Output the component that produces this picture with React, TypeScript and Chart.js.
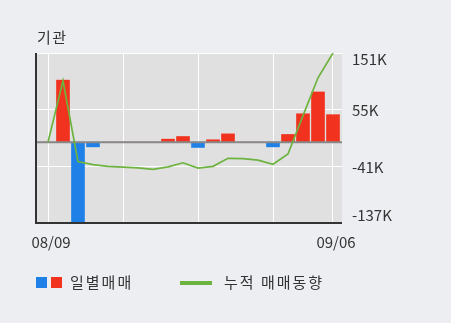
import React, { useEffect, useRef } from 'react';
import { Chart, registerables } from 'chart.js';

Chart.register(...registerables);

// ---- data ----
const dates = [
  '08/09', '08/12', '08/13', '08/14', '08/16', '08/19', '08/20', '08/21', '08/22', '08/23',
  '08/26', '08/27', '08/28', '08/29', '08/30', '09/02', '09/03', '09/04', '09/05', '09/06',
];
const dailyNet = [
  0, 105000, -136000, -8000, 0, 0, 0, 0, 5000, 9500,
  -9000, 4000, 14000, 0, 0, -8000, 13000, 48000, 85000, 46500,
];
const cumulativeNet = [
  0, 104000, -33000, -38000, -41000, -42500, -43500, -46000, -42000, -35000,
  -44000, -41000, -27500, -28000, -30500, -37500, -20000, 45000, 109000, 151000,
];
const yTickValues = [151000, 55000, -41000, -137000];
const yTickLabels = ['151K', '55K', '-41K', '-137K'];
const xGridIndices = [0, 5, 10, 15, 19];
const xLabelIndices = [0, 19];
const titleText = '기관';
const legendDaily = '일별매매';
const legendCum = '누적 매매동향';

// ---- styles ----
const RED = '#f0321e';
const BLUE = '#1f80e8';
const GREEN = '#6db33f';
const FONT = '"Noto Sans CJK KR", "Noto Sans", sans-serif';
const TEXT = '#333333';
const PAGE_BG = '#edeef2';

export default function App() {
  const ref = useRef<HTMLCanvasElement>(null);

  useEffect(() => {
    const canvas = ref.current;
    if (!canvas) return;

    const decor = {
      id: 'decor',
      beforeDraw(chart: any) {
        const { ctx, chartArea: a } = chart;
        ctx.save();
        ctx.fillStyle = '#e0e0e0';
        ctx.fillRect(a.left, a.top, a.right - a.left, a.bottom - a.top);
        ctx.restore();
      },
      beforeDatasetDraw(chart: any, args: any) {
        if (args.meta.type !== 'line') return;
        const { ctx, chartArea: a } = chart;
        const y0 = chart.scales.y.getPixelForValue(0);
        ctx.save();
        ctx.strokeStyle = '#888888';
        ctx.lineWidth = 2;
        ctx.beginPath();
        ctx.moveTo(a.left, y0);
        ctx.lineTo(a.right, y0);
        ctx.stroke();
        ctx.restore();
      },
      afterDraw(chart: any) {
        const { ctx, chartArea: a } = chart;
        const ys = chart.scales.y;
        ctx.save();
        ctx.fillStyle = '#333333';
        ctx.fillRect(a.left - 1, a.top, 2, a.bottom - a.top + 1);
        ctx.fillRect(a.left - 1, a.bottom - 1, a.right - a.left + 1, 2);
        ctx.font = `15px ${FONT}`;
        ctx.fillStyle = TEXT;
        ctx.textAlign = 'left';
        ctx.textBaseline = 'middle';
        yTickValues.forEach((v, i) => {
          let y = ys.getPixelForValue(v) + 1;
          y = Math.max(a.top + 6, Math.min(a.bottom - 8, y));
          ctx.fillText(yTickLabels[i], a.right + 10, y);
        });
        ctx.restore();
      },
    };

    const chart = new Chart(canvas, {
      type: 'bar',
      data: {
        datasets: [
          {
            type: 'line',
            label: legendCum,
            data: cumulativeNet.map((v, i) => ({ x: i, y: v })),
            borderColor: GREEN,
            borderWidth: 1.7,
            pointRadius: 0,
            tension: 0,
            fill: false,
            order: 1,
          } as any,
          {
            type: 'bar',
            label: legendDaily,
            data: dailyNet.map((v, i) => ({ x: i, y: v })),
            backgroundColor: (c: any) => ((c.raw && c.raw.y < 0) ? BLUE : RED),
            barThickness: 13,
            order: 2,
          } as any,
        ],
      },
      options: {
        animation: false,
        responsive: false,
        maintainAspectRatio: false,
        layout: { padding: { left: 36, top: 53, right: 0, bottom: 0 } },
        plugins: { legend: { display: false }, tooltip: { enabled: false }, title: { display: false } },
        scales: {
          x: {
            type: 'linear',
            min: -0.8,
            max: 19.6,
            offset: false,
            grid: { color: '#ffffff', lineWidth: 1, drawTicks: false, offset: false },
            border: { display: false },
            afterBuildTicks: (axis: any) => {
              axis.ticks = xGridIndices.map((v) => ({ value: v }));
            },
            afterFit: (axis: any) => {
              axis.height = 100;
            },
            ticks: {
              autoSkip: false,
              maxRotation: 0,
              padding: 10,
              labelOffset: 3,
              color: TEXT,
              font: { family: FONT, size: 15 },
              callback: (value: any) => (xLabelIndices.includes(value) ? dates[value] : ''),
            },
          },
          y: {
            type: 'linear',
            position: 'right',
            min: -137000,
            max: 151000,
            grid: { color: '#ffffff', lineWidth: 1, drawTicks: false },
            border: { display: false },
            ticks: { display: false },
            afterBuildTicks: (axis: any) => {
              axis.ticks = yTickValues.map((v) => ({ value: v }));
            },
            afterFit: (axis: any) => {
              axis.width = 109;
            },
          },
        },
      } as any,
      plugins: [decor],
    });

    return () => chart.destroy();
  }, []);

  const textStyle: React.CSSProperties = {
    position: 'absolute',
    fontFamily: FONT,
    fontSize: 15,
    lineHeight: '15px',
    color: TEXT,
    whiteSpace: 'nowrap',
    letterSpacing: '2px',
  };

  return (
    <div style={{ position: 'fixed', left: 0, top: 0, width: 451, height: 323, background: PAGE_BG, overflow: 'hidden' }}>
      <canvas ref={ref} width={451} height={323} style={{ position: 'absolute', left: 0, top: 0, width: 451, height: 323 }} />
      <div style={{ ...textStyle, left: 37, top: 29, letterSpacing: '1.5px' }}>{titleText}</div>
      <div style={{ position: 'absolute', left: 36, top: 277, width: 11, height: 11, background: BLUE }} />
      <div style={{ position: 'absolute', left: 51, top: 277, width: 11, height: 11, background: RED }} />
      <div style={{ ...textStyle, left: 70, top: 274 }}>{legendDaily}</div>
      <div style={{ position: 'absolute', left: 180, top: 281, width: 32, height: 4, background: GREEN }} />
      <div style={{ ...textStyle, left: 224, top: 274 }}>{legendCum}</div>
    </div>
  );
}
